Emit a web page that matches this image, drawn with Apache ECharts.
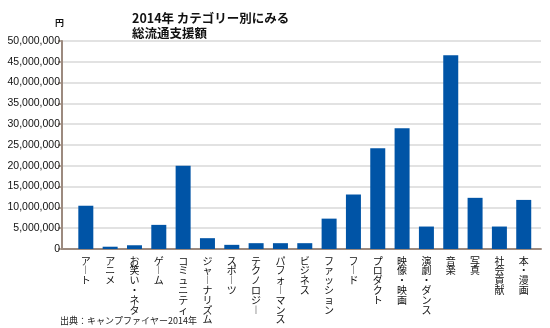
<!DOCTYPE html>
<html>
<head>
<meta charset="utf-8">
<script src="https://cdn.jsdelivr.net/npm/echarts@6/dist/echarts.min.js"></script>
<style>
  html, body { margin: 0; padding: 0; background: #fff; }
  #chart { width: 550px; height: 328px; }
</style>
</head>
<body>
<div id="chart"></div>
<script>
// カテゴリー別 総流通支援額（円）
const categories = [
  'アート', 'アニメ', 'お笑い・ネタ', 'ゲーム', 'コミュニティ', 'ジャーナリズム',
  'スポーツ', 'テクノロジー', 'パフォーマンス', 'ビジネス', 'ファッション', 'フード',
  'プロダクト', '映像・映画', '演劇・ダンス', '音楽', '写真', '社会貢献', '本・漫画'
];
const amounts = [
  10400000, 550000, 900000, 5800000, 20000000, 2600000,
  1000000, 1400000, 1400000, 1400000, 7300000, 13100000,
  24200000, 29000000, 5400000, 46600000, 12300000, 5400000, 11800000
];
const yMin = 0;
const yMax = 50000000;
const yStep = 5000000;

const titleLines = ['2014年 カテゴリー別にみる', '総流通支援額'];
const unitLabel = '円';
const sourceNote = '出典：キャンプファイヤー2014年';

const AXIS_BROWN = '#9c8a7f';
const GRID_GRAY = '#d9d9d9';
const BAR_BLUE = '#0054a6';
const JP_FONT = '"Noto Sans CJK JP", "Noto Sans", sans-serif';

// Stack label characters top-to-bottom, using the vertical long-vowel form
function verticalText(s) {
  return Array.from(s).map(ch => (ch === 'ー' ? '︱' : ch)).join('\n');
}

const chart = echarts.init(document.getElementById('chart'), null, { renderer: 'canvas' });

chart.setOption({
  animation: false,
  backgroundColor: '#ffffff',
  title: {
    text: titleLines.join('\n'),
    left: 127,
    top: 6,
    textStyle: {
      fontFamily: JP_FONT,
      fontSize: 12.5,
      fontWeight: 'bold',
      color: '#111',
      lineHeight: 14.5
    }
  },
  graphic: [
    {
      type: 'text',
      left: 60,
      top: 316,
      style: {
        text: sourceNote,
        font: '9px "Noto Sans CJK JP", sans-serif',
        fill: '#222'
      }
    }
  ],
  grid: [
    // bars
    { left: 73.65, right: 14.1, top: 41, bottom: 79 },
    // frame: value axis, gridlines and baseline
    { left: 62, right: 9, top: 41, bottom: 79 }
  ],
  xAxis: [
    {
      gridIndex: 0,
      type: 'category',
      data: categories,
      axisLine: { show: false },
      axisTick: { show: false },
      axisLabel: {
        interval: 0,
        margin: 7,
        fontFamily: JP_FONT,
        fontSize: 10,
        lineHeight: 9.8,
        color: '#111',
        align: 'center',
        verticalAlign: 'top',
        formatter: verticalText
      }
    },
    {
      gridIndex: 1,
      type: 'value',
      min: 0,
      max: 1,
      axisLine: { show: true, onZero: false, lineStyle: { color: AXIS_BROWN, width: 2 } },
      axisTick: { show: false },
      axisLabel: { show: false },
      splitLine: { show: false }
    }
  ],
  yAxis: [
    {
      gridIndex: 0,
      type: 'value',
      min: yMin,
      max: yMax,
      interval: yStep,
      show: false,
      splitLine: { show: false }
    },
    {
      gridIndex: 1,
      type: 'value',
      min: yMin,
      max: yMax,
      interval: yStep,
      name: unitLabel,
      nameLocation: 'end',
      nameGap: 14,
      nameTextStyle: {
        fontFamily: JP_FONT,
        fontSize: 9,
        fontWeight: 'bold',
        color: '#111',
        align: 'center',
        padding: [0, 5, 0, 0]
      },
      axisLine: { show: true, lineStyle: { color: AXIS_BROWN, width: 2 } },
      axisTick: { show: true, length: 4, lineStyle: { color: AXIS_BROWN, width: 1.5 } },
      axisLabel: {
        margin: 2,
        fontFamily: '"Liberation Sans", Arial, sans-serif',
        fontSize: 10.5,
        color: '#111',
        formatter: v => v.toLocaleString('en-US')
      },
      splitLine: { show: true, lineStyle: { color: GRID_GRAY, width: 1.5 } }
    }
  ],
  series: [
    {
      type: 'bar',
      xAxisIndex: 0,
      yAxisIndex: 0,
      data: amounts,
      barWidth: 15,
      itemStyle: { color: BAR_BLUE },
      z: 3
    }
  ]
});
</script>
</body>
</html>
